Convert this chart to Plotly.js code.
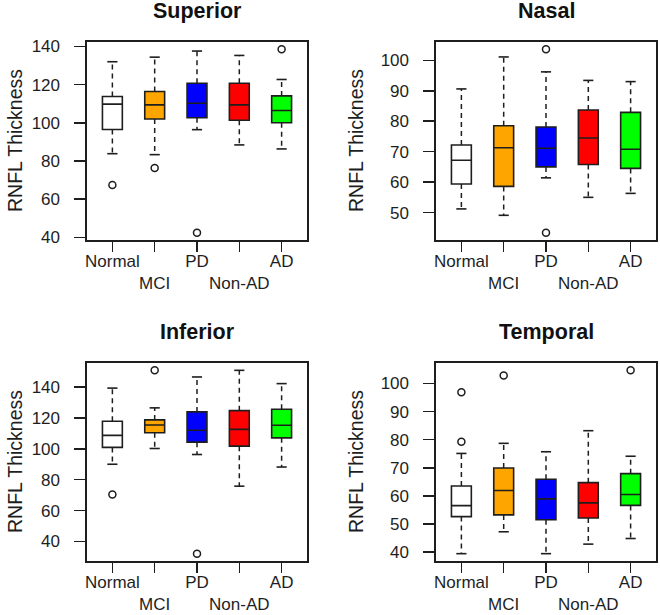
<!DOCTYPE html>
<html><head><meta charset="utf-8">
<script src="https://cdn.plot.ly/plotly-3.0.1.min.js"></script>
<style>html,body{margin:0;padding:0;background:#fff}#chart{width:660px;height:615px}</style>
</head><body><div id="chart"></div>
<script>
// ---- data ----
const groups = ['Normal', 'MCI', 'PD', 'Non-AD', 'AD'];
const tickLabels = ['Normal', '<br>MCI', 'PD', '<br>Non-AD', 'AD'];
const groupColors = ['#FFFFFF', '#FFA500', '#0000FF', '#FF0000', '#00FF00'];
const panelTitles = ['Superior', 'Nasal', 'Inferior', 'Temporal'];
const yTitle = 'RNFL Thickness';

// Superior
const supLower   = [83.8, 83.3, 96.4, 88.4, 86.3];
const supQ1      = [96.5, 102.0, 102.6, 101.3, 100.0];
const supMedian  = [109.8, 109.4, 110.2, 109.4, 106.4];
const supQ3      = [113.8, 116.4, 120.7, 120.7, 114.1];
const supUpper   = [132.0, 134.4, 137.6, 135.3, 122.7];
const supOutliers = [[67.4], [76.3], [42.4], [], [138.5]];

// Nasal
const nasLower   = [51.2, 49.1, 61.4, 55.0, 56.3];
const nasQ1      = [59.4, 58.6, 65.0, 65.8, 64.5];
const nasMedian  = [67.2, 71.3, 71.1, 74.5, 70.8];
const nasQ3      = [72.2, 78.5, 78.1, 83.7, 82.9];
const nasUpper   = [90.6, 101.1, 96.2, 93.4, 93.0];
const nasOutliers = [[], [], [103.6, 43.4], [], []];

// Inferior
const infLower   = [90.0, 100.2, 96.3, 75.8, 88.2];
const infQ1      = [100.9, 110.4, 104.3, 101.7, 107.1];
const infMedian  = [108.7, 115.4, 112.0, 112.6, 115.2];
const infQ3      = [117.8, 118.7, 123.9, 124.7, 125.6];
const infUpper   = [139.3, 126.5, 146.5, 150.8, 142.2];
const infOutliers = [[70.4], [150.8], [32.1], [], []];

// Temporal
const temLower   = [39.4, 47.2, 39.4, 42.8, 44.8];
const temQ1      = [52.6, 53.2, 51.5, 52.1, 56.6];
const temMedian  = [56.5, 61.9, 58.9, 57.5, 60.5];
const temQ3      = [63.5, 69.9, 65.9, 64.7, 67.9];
const temUpper   = [75.1, 78.7, 75.7, 83.2, 74.1];
const temOutliers = [[96.9, 79.3], [102.9], [], [], [104.7]];

const panels = [
  {lower: supLower, q1: supQ1, median: supMedian, q3: supQ3, upper: supUpper, outliers: supOutliers, dtick: 20},
  {lower: nasLower, q1: nasQ1, median: nasMedian, q3: nasQ3, upper: nasUpper, outliers: nasOutliers, dtick: 10},
  {lower: infLower, q1: infQ1, median: infMedian, q3: infQ3, upper: infUpper, outliers: infOutliers, dtick: 20},
  {lower: temLower, q1: temQ1, median: temMedian, q3: temQ3, upper: temUpper, outliers: temOutliers, dtick: 10}
];

// ---- layout geometry / style ----
const W = 660, H = 615;
const boxL = [87, 436, 87, 436], boxR = [307, 656, 307, 656];
const boxT = [42, 42, 363, 363], boxB = [240, 240, 561, 561];
const yTitleX = [15, 356, 15, 356];
const ink = '#1e1e1e';
const font = 'Liberation Sans, Arial, sans-serif';
const boxWidth = 0.47, capHalf = 0.12;

const traces = [];
const layout = {
  width: W, height: H,
  margin: {l: 0, r: 0, t: 0, b: 0},
  paper_bgcolor: '#fff', plot_bgcolor: '#fff',
  showlegend: false,
  font: {family: font, size: 17, color: ink},
  annotations: []
};

panels.forEach((p, k) => {
  const n = k + 1;
  const xa = 'x' + (n === 1 ? '' : n), ya = 'y' + (n === 1 ? '' : n);
  const xKey = 'xaxis' + (n === 1 ? '' : n), yKey = 'yaxis' + (n === 1 ? '' : n);

  groups.forEach((g, i) => {
    traces.push({
      type: 'box', name: g, xaxis: xa, yaxis: ya,
      x: [i], q1: [p.q1[i]], median: [p.median[i]], q3: [p.q3[i]],
      lowerfence: [p.q1[i]], upperfence: [p.q3[i]],
      width: boxWidth, whiskerwidth: 0, boxpoints: false,
      fillcolor: groupColors[i], line: {color: ink, width: 1.6},
      hoverinfo: 'skip'
    });
  });

  const wx = [], wy = [], cx = [], cy = [], ox = [], oy = [];
  groups.forEach((g, i) => {
    wx.push(i, i, null, i, i, null);
    wy.push(p.q3[i], p.upper[i], null, p.q1[i], p.lower[i], null);
    cx.push(i - capHalf, i + capHalf, null, i - capHalf, i + capHalf, null);
    cy.push(p.upper[i], p.upper[i], null, p.lower[i], p.lower[i], null);
    p.outliers[i].forEach(v => { ox.push(i); oy.push(v); });
  });
  traces.push({type: 'scatter', mode: 'lines', xaxis: xa, yaxis: ya, x: wx, y: wy,
    line: {color: ink, width: 1.5, dash: '5px,4px'}, hoverinfo: 'skip'});
  traces.push({type: 'scatter', mode: 'lines', xaxis: xa, yaxis: ya, x: cx, y: cy,
    line: {color: ink, width: 1.6}, hoverinfo: 'skip'});
  traces.push({type: 'scatter', mode: 'markers', xaxis: xa, yaxis: ya, x: ox, y: oy,
    marker: {symbol: 'circle-open', size: 7, color: ink, line: {width: 1.5, color: ink}}, hoverinfo: 'skip'});

  // R-style range: data extent extended by 4%
  const all = [].concat(p.lower, p.upper, ...p.outliers);
  const mn = Math.min(...all), mx = Math.max(...all), pad = (mx - mn) * 0.04;

  const dx = [boxL[k] / W, boxR[k] / W];
  const dy = [(H - boxB[k]) / H, (H - boxT[k]) / H];

  layout[xKey] = {
    domain: dx, anchor: ya, range: [-0.6, 4.6],
    tickmode: 'array', tickvals: groups.map((g, i) => i), ticktext: tickLabels,
    tickangle: 0, ticklabelstandoff: -5,
    ticks: 'outside', ticklen: 10, tickwidth: 1.5, tickcolor: ink,
    showline: true, mirror: true, linecolor: ink, linewidth: 1.6,
    showgrid: false, zeroline: false, fixedrange: true,
    tickfont: {family: font, size: 17, color: ink}
  };
  layout[yKey] = {
    domain: dy, anchor: xa, range: [mn - pad, mx + pad],
    tick0: 0, dtick: p.dtick,
    ticks: 'outside', ticklen: 11, tickwidth: 1.5, tickcolor: ink,
    ticklabelstandoff: 11,
    showline: true, mirror: true, linecolor: ink, linewidth: 1.6,
    showgrid: false, zeroline: false, fixedrange: true,
    tickfont: {family: font, size: 17, color: ink}
  };

  layout.annotations.push({
    text: '<b>' + panelTitles[k] + '</b>', xref: 'paper', yref: 'paper',
    x: (dx[0] + dx[1]) / 2, y: dy[1], xanchor: 'center', yanchor: 'bottom',
    yshift: 17, showarrow: false, font: {family: font, size: 21.5, color: '#111'}
  });
  layout.annotations.push({
    text: yTitle, xref: 'paper', yref: 'paper', textangle: -90,
    x: yTitleX[k] / W, y: (dy[0] + dy[1]) / 2, xanchor: 'center', yanchor: 'middle',
    showarrow: false, font: {family: font, size: 19.5, color: ink}
  });
});

Plotly.newPlot('chart', traces, layout, {displayModeBar: false, staticPlot: true});
</script>
</body></html>
